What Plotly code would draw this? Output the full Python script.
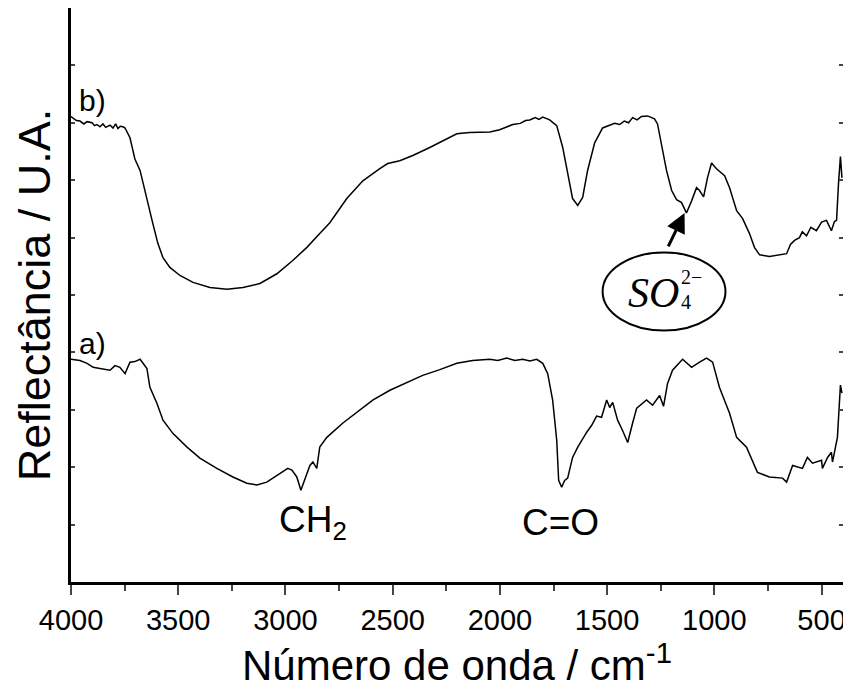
import plotly.graph_objects as go

# espectro b) (parte superior)
wn_b = [4000, 3991, 3975, 3958, 3940, 3925, 3902, 3890, 3879, 3865, 3851, 3838, 3818, 3804, 3792, 3781, 3770, 3758, 3748,
        3725, 3702, 3678, 3664, 3641, 3618, 3595, 3571, 3539, 3492, 3431, 3352, 3273, 3198, 3119, 3040, 2966,
        2900, 2840, 2793, 2714, 2639, 2560, 2523, 2467, 2406, 2327, 2248, 2201, 2141, 2047, 2001, 1970, 1940,
        1905, 1880, 1861, 1835, 1818, 1800, 1768, 1735, 1707, 1684, 1661, 1637, 1614, 1591, 1558, 1521, 1488,
        1465, 1442, 1420, 1400, 1381, 1360, 1340, 1311, 1279, 1265, 1246, 1223, 1199, 1176, 1153, 1130, 1106,
        1083, 1069, 1050, 1032, 1013, 990, 952, 929, 896, 868, 836, 813, 789, 743, 696, 663, 645, 626, 603,
        590, 570, 550, 524, 500, 477, 465, 454, 440, 430, 421, 412, 405]
val_b = [8.11, 8.09, 8.04, 8.03, 7.98, 8.02, 8.00, 7.95, 7.97, 7.93, 7.98, 7.92, 7.96, 7.91, 7.98, 7.90, 7.94, 7.93, 7.91,
         7.74, 7.37, 7.17, 6.94, 6.59, 6.24, 5.90, 5.65, 5.48, 5.34, 5.22, 5.13, 5.10, 5.13, 5.20, 5.37, 5.60,
         5.83, 6.07, 6.26, 6.68, 6.99, 7.20, 7.29, 7.34, 7.43, 7.57, 7.72, 7.81, 7.83, 7.84, 7.88, 7.92, 7.97,
         7.99, 8.04, 8.05, 8.09, 8.06, 8.10, 8.05, 7.95, 7.57, 7.11, 6.68, 6.56, 6.70, 7.17, 7.65, 7.91, 7.95,
         7.99, 7.97, 8.03, 8.00, 8.09, 8.05, 8.11, 8.12, 8.07, 7.98, 7.63, 7.17, 6.82, 6.66, 6.61, 6.43, 6.64,
         6.87, 6.82, 6.71, 7.04, 7.30, 7.20, 7.08, 6.87, 6.47, 6.33, 6.07, 5.83, 5.70, 5.67, 5.70, 5.72, 5.88, 5.95, 6.00,
         6.10, 6.03, 6.18, 6.12, 6.27, 6.30, 6.20, 6.12, 6.28, 6.30, 6.94, 7.41, 7.04]

# espectro a) (parte inferior)
wn_a = [4000, 3958, 3925, 3897, 3865, 3818, 3795, 3772, 3748, 3725, 3702, 3678, 3664, 3646, 3632, 3599, 3571,
        3525, 3459, 3399, 3320, 3245, 3180, 3133, 3087, 3040, 2989, 2970, 2947, 2928, 2910, 2886, 2872, 2854,
        2840, 2807, 2732, 2667, 2593, 2513, 2434, 2360, 2280, 2201, 2127, 2047, 2010, 1968, 1930, 1894, 1860,
        1828, 1800, 1777, 1754, 1735, 1726, 1712, 1698, 1684, 1661, 1637, 1595, 1572, 1549, 1526, 1502, 1488,
        1474, 1451, 1428, 1404, 1381, 1362, 1316, 1288, 1255, 1237, 1218, 1195, 1148, 1106, 1069, 1036, 1008,
        976, 929, 896, 850, 799, 743, 682, 663, 635, 589, 566, 542, 500, 496, 472, 454, 449, 426, 412, 405]
val_a = [3.88, 3.86, 3.81, 3.74, 3.72, 3.69, 3.77, 3.74, 3.63, 3.83, 3.84, 3.88, 3.81, 3.72, 3.39, 3.11, 2.82,
         2.59, 2.35, 2.16, 1.98, 1.83, 1.72, 1.69, 1.74, 1.86, 1.98, 1.95, 1.83, 1.60, 1.77, 2.03, 2.09, 1.98,
         2.35, 2.52, 2.77, 2.96, 3.17, 3.34, 3.48, 3.60, 3.70, 3.81, 3.86, 3.88, 3.86, 3.90, 3.86, 3.88, 3.85,
         3.88, 3.81, 3.63, 3.17, 2.47, 1.77, 1.65, 1.77, 1.81, 2.17, 2.35, 2.61, 2.73, 2.89, 2.87, 3.17, 3.04,
         3.13, 2.82, 2.64, 2.43, 2.77, 3.03, 3.17, 3.08, 3.25, 3.06, 3.46, 3.69, 3.88, 3.74, 3.83, 3.90, 3.83,
         3.39, 2.94, 2.52, 2.35, 1.91, 1.83, 1.81, 1.74, 2.03, 1.98, 2.17, 2.07, 2.12, 1.98, 2.17, 2.26, 2.09, 2.52, 3.43, 3.29]

x_ticks = [4000, 3500, 3000, 2500, 2000, 1500, 1000, 500]

FONT = "Liberation Sans, Arial, sans-serif"

fig = go.Figure()
fig.add_trace(go.Scatter(x=wn_b, y=val_b, mode="lines", line=dict(color="black", width=1.5), showlegend=False))
fig.add_trace(go.Scatter(x=wn_a, y=val_a, mode="lines", line=dict(color="black", width=1.5), showlegend=False))

# a pagina tem 8px de margem no body: figura um pouco menor e deslocada
fig.update_layout(
    width=843, height=685,
    margin=dict(l=63, r=8, t=0, b=111),
    plot_bgcolor="white", paper_bgcolor="white",
    font=dict(family=FONT, color="black"),
    showlegend=False,
    xaxis=dict(
        range=[4000, 400], tickvals=x_ticks, ticks="outside", ticklen=10, tickwidth=2,
        tickfont=dict(size=29), showline=True, linewidth=2.5, linecolor="black", mirror=True,
        showgrid=False, zeroline=False, automargin=False,
        minor=dict(dtick=250, ticks="outside", ticklen=6, tickwidth=2, tick0=0),
        title=dict(text="Número de onda / cm<sup>-1</sup>", font=dict(size=42), standoff=8),
    ),
    yaxis=dict(
        range=[0, 10], dtick=1, ticks="inside", ticklen=4, tickwidth=2, showticklabels=False,
        showline=True, linewidth=2.5, linecolor="black", mirror="ticks",
        showgrid=False, zeroline=False, automargin=False,
        title=dict(text="Reflectância / U.A.", font=dict(size=45), standoff=4),
    ),
)

ann_font = dict(family=FONT, size=37, color="black")
fig.add_annotation(x=3902, y=8.38, text="b)", showarrow=False, font=dict(family=FONT, size=30))
fig.add_annotation(x=3902, y=4.16, text="a)", showarrow=False, font=dict(family=FONT, size=30))
fig.add_annotation(x=2872, y=1.05, text="CH<sub>2</sub>", showarrow=False, font=ann_font)
fig.add_annotation(x=1717, y=1.04, text="C=O", showarrow=False, font=ann_font)

# sulfato: elipse, texto e seta
fig.add_shape(type="circle", xref="x", yref="y", x0=1521, x1=948, y0=4.38, y1=5.74,
              line=dict(color="black", width=2))
serif = "Liberation Serif, Times New Roman, serif"
fig.add_annotation(x=1283, y=5.04, text="<i>SO</i>", showarrow=False, font=dict(family=serif, size=42))
fig.add_annotation(x=1130, y=4.87, text="4", showarrow=False, font=dict(family=serif, size=20))
fig.add_annotation(x=1106, y=5.32, text="2−", showarrow=False, font=dict(family=serif, size=20))
fig.add_annotation(x=1139, y=6.43, ax=-17, ay=35, text="", showarrow=True, arrowhead=2,
                   arrowsize=1.3, arrowwidth=3, arrowcolor="black", standoff=0)

fig.write_html("out.html")
